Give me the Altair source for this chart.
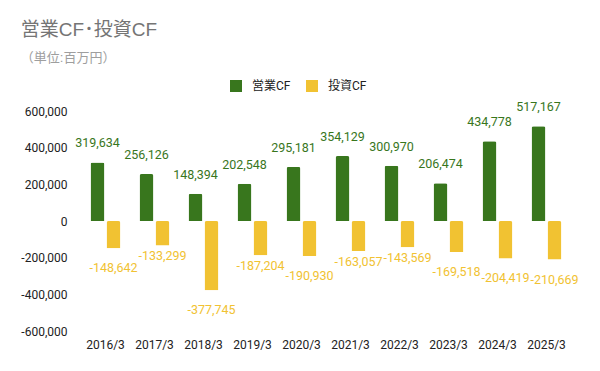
import altair as alt
import pandas as pd

years = ["2016/3", "2017/3", "2018/3", "2019/3", "2020/3", "2021/3", "2022/3", "2023/3", "2024/3", "2025/3"]
operating_cf = [319634, 256126, 148394, 202548, 295181, 354129, 300970, 206474, 434778, 517167]
investing_cf = [-148642, -133299, -377745, -187204, -190930, -163057, -143569, -169518, -204419, -210669]
series_names = ["営業CF", "投資CF"]
colors = ["#38761d", "#f1c232"]
# years whose negative labels sit closer to the bar (as in the reference)
near_label_years = ["2017/3", "2019/3", "2021/3", "2022/3"]

rows = []
for y, a, b in zip(years, operating_cf, investing_cf):
    rows.append({"year": y, "series": series_names[0], "value": a})
    rows.append({"year": y, "series": series_names[1], "value": b})
df = pd.DataFrame(rows)

FONT = "Roboto, 'Noto Sans CJK JP', sans-serif"
TFONT = "'Liberation Sans', 'Noto Sans CJK JP', sans-serif"
FMT = "replace(format({v}, ',d'), '\u2212', '-')"

x = alt.X("year:N", sort=years, title=None,
          scale=alt.Scale(paddingInner=0.39, paddingOuter=0.195),
          axis=alt.Axis(labelAngle=0, ticks=False, domain=False, labelPadding=8,
                        labelFontSize=12, labelColor="#222222", labelFont=FONT))
xoff = alt.XOffset("series:N", sort=series_names, scale=alt.Scale(paddingInner=0.13))
y = alt.Y("value:Q", title=None,
          scale=alt.Scale(domain=[-600000, 600000]),
          axis=alt.Axis(values=[-600000, -400000, -200000, 0, 200000, 400000, 600000],
                        labelExpr=FMT.format(v="datum.value"),
                        grid=False, ticks=False, domain=False, labelPadding=14,
                        labelFontSize=12, labelColor="#222222", labelFont=FONT))
color = alt.Color("series:N", sort=series_names,
                  scale=alt.Scale(domain=series_names, range=colors),
                  legend=alt.Legend(title=None, orient="none", direction="horizontal",
                                    legendX=149, legendY=-31, symbolType="square",
                                    symbolSize=144, symbolStrokeWidth=0, labelFontSize=12,
                                    labelColor="#222222", labelFont=FONT, labelOffset=10,
                                    columnPadding=15))

base = alt.Chart(df).transform_calculate(label=FMT.format(v="datum.value"))
bars = base.mark_bar(cornerRadiusEnd=2).encode(x=x, xOffset=xoff, y=y, color=color)

pos_text = base.transform_filter(alt.datum.series == series_names[0]).mark_text(
    dy=-19, fontSize=12.5, font=FONT, color=colors[0], baseline="middle"
).encode(x=x, xOffset=xoff, y=y, text="label:N")

is_neg = alt.datum.series == series_names[1]
is_near = alt.FieldOneOfPredicate(field="year", oneOf=near_label_years)

neg_text_far = base.transform_filter(is_neg).transform_filter(~is_near).mark_text(
    dy=20, fontSize=12.5, font=FONT, color=colors[1], baseline="middle"
).encode(x=x, xOffset=xoff, y=y, text="label:N")

neg_text_near = base.transform_filter(is_neg).transform_filter(is_near).mark_text(
    dy=11, fontSize=12.5, font=FONT, color=colors[1], baseline="middle"
).encode(x=x, xOffset=xoff, y=y, text="label:N")

chart = alt.layer(bars, pos_text, neg_text_far, neg_text_near).properties(
    width=490, height=220,
    padding={"left": 12, "top": 13, "right": 5, "bottom": 5},
    title=alt.TitleParams(
        text="営業CF\uff65投資CF", subtitle="（単位:百万円）",
        anchor="start", frame="bounds", font=TFONT, fontSize=19, fontWeight="normal",
        color="#757575", subtitleFont=TFONT, subtitleFontSize=13, subtitleColor="#9e9e9e",
        subtitlePadding=12, offset=15
    )
).configure_view(stroke=None)

chart.save("out.html", embed_options={"renderer": "svg", "actions": False})
